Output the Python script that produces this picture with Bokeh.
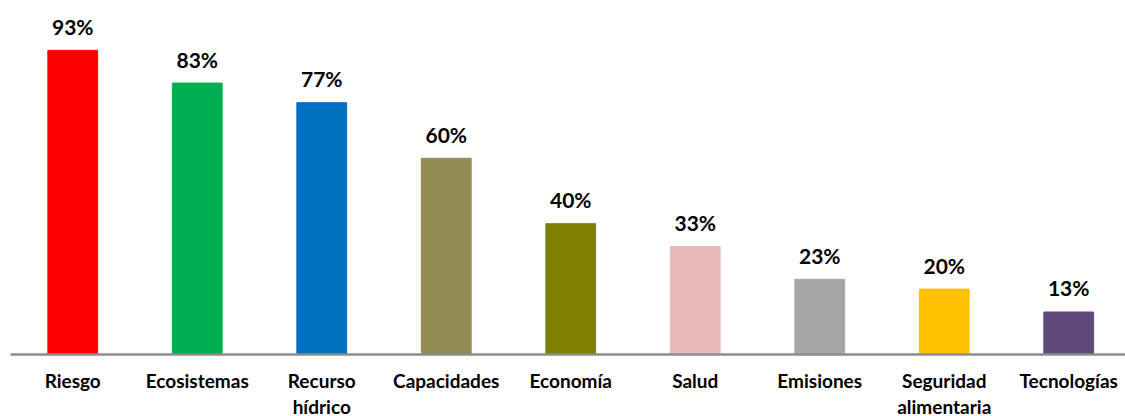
from bokeh.plotting import figure
from bokeh.models import Range1d, ColumnDataSource, FixedTicker
from bokeh.core.properties import value
from bokeh.embed import file_html
from bokeh.resources import INLINE

categories = ["Riesgo", "Ecosistemas", "Recurso\nhídrico", "Capacidades", "Economía",
              "Salud", "Emisiones", "Seguridad\nalimentaria", "Tecnologías"]
values = [93, 83, 77, 60, 40, 33, 23, 20, 13]
colors = ["#FF0000", "#00B050", "#0070C0", "#948A54", "#7F7F00",
          "#E6B9B8", "#A6A6A6", "#FFC000", "#604A7B"]
labels = [f"{v}%" for v in values]

xs = [i + 0.5 for i in range(len(categories))]
src = ColumnDataSource(dict(x=xs, top=values, color=colors, label=labels))

p = figure(width=1125, height=416, output_backend="svg", toolbar_location=None,
           x_range=Range1d(0, 8.956), y_range=Range1d(0, 105.8),
           min_border_left=10, min_border_right=0, min_border_top=8, min_border_bottom=62)
p.frame_width = 1115
p.frame_height = 346

p.vbar(x="x", top="top", width=0.40, bottom=0, color="color", source=src)
p.text(x="x", y="top", text="label", source=src, text_align="center",
       text_baseline="alphabetic", y_offset=-24, text_font=value("Lato"),
       text_font_style="bold", text_font_size="21px", text_color="#000000")

p.yaxis.visible = False
p.xgrid.visible = False
p.ygrid.visible = False
p.outline_line_color = None

ax = p.xaxis[0]
ax.ticker = FixedTicker(ticks=xs)
ax.major_label_overrides = {x: c for x, c in zip(xs, categories)}
ax.axis_line_color = "#8C8C8C"
ax.axis_line_width = 2.5
ax.major_tick_line_color = None
ax.minor_tick_line_color = None
ax.major_label_standoff = 8
ax.major_label_text_font = "Lato"
ax.major_label_text_font_style = "bold"
ax.major_label_text_font_size = "19px"
ax.major_label_text_color = "#000000"
ax.major_label_text_line_height = 1.15

open("out.html", "w").write(file_html(p, INLINE))
